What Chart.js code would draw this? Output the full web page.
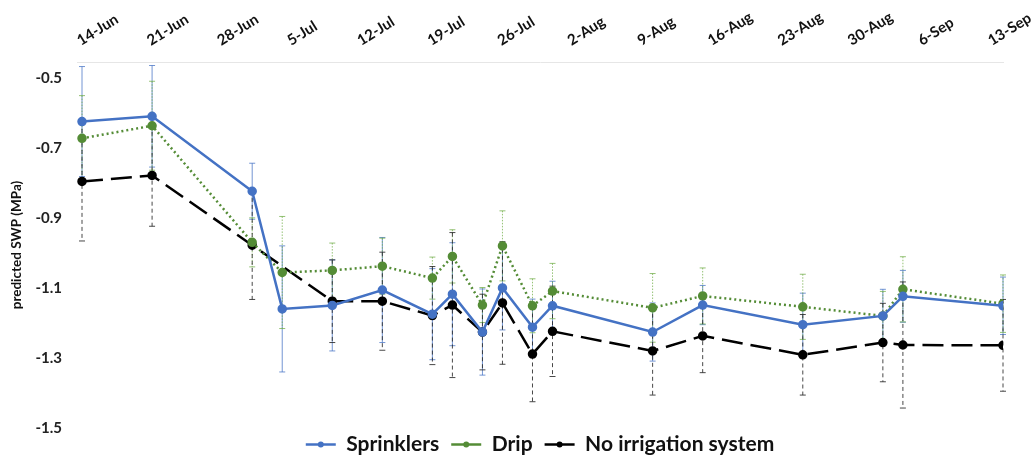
<!DOCTYPE html>
<html>
<head>
<meta charset="utf-8">
<script src="https://cdn.jsdelivr.net/npm/chart.js@4/dist/chart.umd.min.js"></script>
<style>
  html, body { margin: 0; padding: 0; background: #fff; }
  #wrap { width: 1031px; height: 456px; }
</style>
</head>
<body>
<div id="wrap"><canvas id="swpChart"></canvas></div>
<script>
// sampling dates (month-day, same season)
const sampleDates = ['06-14', '06-21', '07-01', '07-04', '07-09', '07-14', '07-19', '07-21', '07-24',
                     '07-26', '07-29', '07-31', '08-10', '08-15', '08-25', '09-02', '09-04', '09-14'];

const sprinklers = [-0.625, -0.61, -0.824, -1.16, -1.15, -1.106, -1.175, -1.118, -1.226,
                    -1.10, -1.212, -1.151, -1.226, -1.149, -1.205, -1.18, -1.124, -1.151];
const drip = [-0.673, -0.637, -0.97, -1.056, -1.05, -1.038, -1.072, -1.01, -1.149,
              -0.98, -1.151, -1.109, -1.157, -1.123, -1.154, -1.18, -1.104, -1.145];
const noIrrigation = [-0.796, -0.779, -0.978, null, -1.138, -1.138, -1.179, -1.149, -1.226,
                      -1.143, -1.289, -1.224, -1.28, -1.237, -1.291, -1.256, -1.263, -1.264];

// error bar half-widths
const sprinklersErr = [0.157, 0.145, 0.08, 0.18, 0.13, 0.15, 0.13, 0.147, 0.123,
                       0.12, 0.08, 0.07, 0.083, 0.056, 0.09, 0.076, 0.074, 0.082];
const dripErr = [0.122, 0.127, 0.07, 0.16, 0.078, 0.08, 0.06, 0.076, 0.05,
                 0.10, 0.077, 0.079, 0.098, 0.08, 0.093, 0.07, 0.093, 0.082];
const noIrrigationErr = [0.17, 0.145, 0.155, 0, 0.118, 0.14, 0.14, 0.207, 0.108,
                         0.175, 0.136, 0.129, 0.126, 0.105, 0.115, 0.112, 0.18, 0.131];

const xTickLabels = ['14-Jun', '21-Jun', '28-Jun', '5-Jul', '12-Jul', '19-Jul', '26-Jul',
                     '2-Aug', '9-Aug', '16-Aug', '23-Aug', '30-Aug', '6-Sep', '13-Sep'];
const yTickValues = [-0.5, -0.7, -0.9, -1.1, -1.3, -1.5];

// days since 14 June
function dayOf(md) {
    const [m, d] = md.split('-').map(Number);
    return (Date.UTC(2021, m - 1, d) - Date.UTC(2021, 5, 14)) / 86400000;
}

function toPoints(vals) {
    return sampleDates.map((md, i) => ({ x: dayOf(md), y: vals[i] }));
}

const errorSets = [sprinklersErr, dripErr, noIrrigationErr];
const errorStyles = [
    { color: 'rgba(68,114,196,0.75)', dash: [] },
    { color: 'rgba(112,173,71,0.75)', dash: [1.5, 1.5] },
    { color: 'rgba(40,40,40,0.85)', dash: [4, 3] }
];

const errorBars = {
    id: 'errorBars',
    beforeDatasetsDraw(chart) {
        const { ctx, scales: { x, y } } = chart;
        chart.data.datasets.forEach((ds, i) => {
            const errs = errorSets[i];
            const st = errorStyles[i];
            ds.data.forEach((p, j) => {
                if (p.y == null || !errs[j]) return;
                const px = x.getPixelForValue(p.x);
                const top = y.getPixelForValue(p.y + errs[j]);
                const bot = y.getPixelForValue(p.y - errs[j]);
                ctx.save();
                ctx.strokeStyle = st.color;
                ctx.lineWidth = 1;
                ctx.setLineDash(st.dash);
                ctx.beginPath();
                ctx.moveTo(px, top);
                ctx.lineTo(px, bot);
                ctx.stroke();
                ctx.setLineDash([]);
                ctx.beginPath();
                ctx.moveTo(px - 3, top); ctx.lineTo(px + 3, top);
                ctx.moveTo(px - 3, bot); ctx.lineTo(px + 3, bot);
                ctx.stroke();
                ctx.restore();
            });
        });
    }
};

// slanted date labels above the plot, placed by the x scale
const slantedTicks = {
    id: 'slantedTicks',
    afterDraw(chart) {
        const { ctx, scales: { x } } = chart;
        ctx.save();
        ctx.font = 'bold 15px Lato, "Open Sans", sans-serif';
        ctx.fillStyle = '#111';
        ctx.textAlign = 'left';
        ctx.textBaseline = 'alphabetic';
        xTickLabels.forEach((lbl, i) => {
            const px = x.getPixelForValue(i * 7);
            ctx.save();
            ctx.translate(px - 1, x.bottom - 16);
            ctx.rotate(-32 * Math.PI / 180);
            ctx.fillText(lbl, 0, 0);
            ctx.restore();
        });
        ctx.restore();
    }
};

// legend centred under the plot area rather than the canvas
const legendShift = {
    id: 'legendShift',
    afterLayout(chart) {
        const lg = chart.legend;
        if (!lg) return;
        const dx = (chart.chartArea.left + chart.chartArea.right) / 2 - (lg.left + lg.right) / 2;
        lg.left += dx; lg.right += dx;
        lg.top -= 6; lg.bottom -= 6;
    }
};

// marker dot in the middle of each legend line sample
const legendDots = {
    id: 'legendDots',
    afterDraw(chart) {
        const lg = chart.legend;
        if (!lg || !lg.legendHitBoxes) return;
        const ctx = chart.ctx;
        lg.legendHitBoxes.forEach((box, i) => {
            const ds = chart.data.datasets[i];
            ctx.save();
            ctx.fillStyle = ds.borderColor;
            ctx.beginPath();
            ctx.arc(box.left + 15, box.top + box.height / 2, 3, 0, Math.PI * 2);
            ctx.fill();
            ctx.restore();
        });
    }
};

Chart.defaults.font.family = 'Lato, "Open Sans", sans-serif';
Chart.defaults.color = '#222';

new Chart(document.getElementById('swpChart'), {
    type: 'line',
    data: {
        datasets: [
            {
                label: 'Sprinklers',
                data: toPoints(sprinklers),
                borderColor: '#4472C4',
                backgroundColor: '#4472C4',
                borderWidth: 2.5,
                pointRadius: 3.5,
                pointStyle: 'circle',
                tension: 0
            },
            {
                label: 'Drip',
                data: toPoints(drip),
                borderColor: '#548C36',
                backgroundColor: '#548C36',
                borderWidth: 2.5,
                borderDash: [2, 3],
                pointRadius: 3.5,
                tension: 0
            },
            {
                label: 'No irrigation system',
                data: toPoints(noIrrigation),
                borderColor: '#000',
                backgroundColor: '#000',
                borderWidth: 2.5,
                borderDash: [21, 8],
                pointRadius: 3.5,
                spanGaps: true,
                tension: 0
            }
        ]
    },
    options: {
        responsive: true,
        maintainAspectRatio: false,
        animation: false,
        layout: { padding: { left: 0, right: 28, top: 0, bottom: -15 } },
        plugins: {
            tooltip: { enabled: false },
            legend: {
                position: 'bottom',
                labels: {
                    usePointStyle: true,
                    pointStyle: 'line',
                    pointStyleWidth: 30,
                    padding: 12,
                    font: { size: 21, weight: 'bold' },
                    color: '#111'
                }
            }
        },
        scales: {
            x: {
                type: 'linear',
                position: 'top',
                min: -0.5,
                max: 92,
                grid: { display: false, drawTicks: false },
                border: { display: true, color: '#e6e6e6', width: 1 },
                afterBuildTicks: (scale) => {
                    scale.ticks = xTickLabels.map((_, i) => ({ value: i * 7 }));
                },
                afterFit: (scale) => {
                    scale.height = 62;
                    scale.paddingLeft = 0;
                    scale.paddingRight = 0;
                },
                ticks: { display: false }
            },
            y: {
                min: -1.5,
                max: -0.455,
                grid: { display: false, drawTicks: false },
                border: { display: false },
                afterBuildTicks: (scale) => {
                    scale.ticks = yTickValues.map(v => ({ value: v }));
                },
                afterFit: (scale) => { scale.width = 77; },
                ticks: {
                    padding: 15,
                    font: { size: 15, weight: 'bold' },
                    color: '#222',
                    callback: (v) => v.toFixed(1)
                },
                title: {
                    display: true,
                    text: 'predicted SWP (MPa)',
                    font: { size: 13.5, weight: 'bold' },
                    color: '#111',
                    padding: { top: 9, bottom: 0 }
                }
            }
        }
    },
    plugins: [errorBars, slantedTicks, legendShift, legendDots]
});
</script>
</body>
</html>
